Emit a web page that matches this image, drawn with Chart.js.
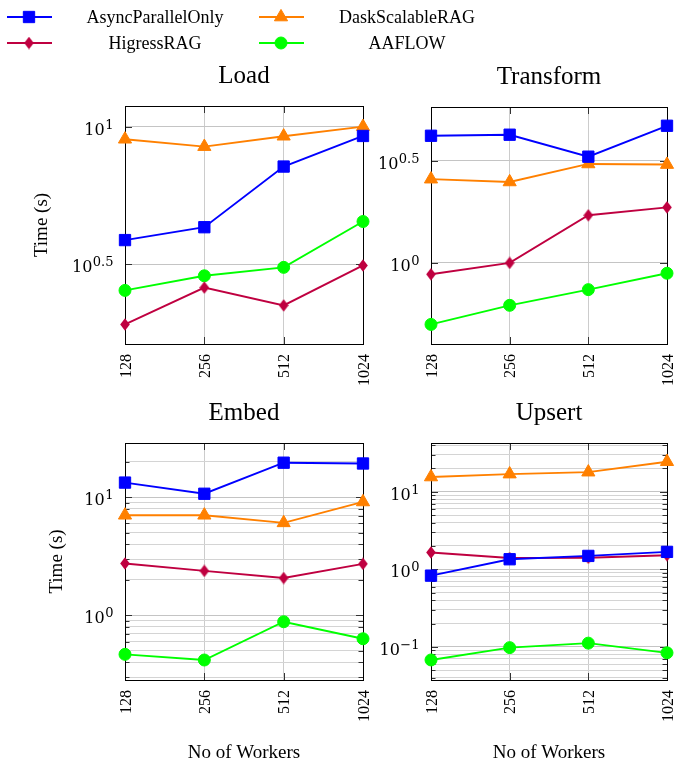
<!DOCTYPE html>
<html>
<head>
<meta charset="utf-8">
<script src="https://cdn.jsdelivr.net/npm/chart.js@4.4.1/dist/chart.umd.min.js"></script>
<style>
body { margin: 0; background: #fff; }
#wrap { position: relative; width: 676px; height: 764px; }
#wrap canvas { position: absolute; left: 0; top: 0; }
</style>
</head>
<body>
<div id="wrap">
<canvas id="cLoad" width="676" height="764"></canvas>
<canvas id="cTransform" width="676" height="764"></canvas>
<canvas id="cEmbed" width="676" height="764"></canvas>
<canvas id="cUpsert" width="676" height="764"></canvas>
</div>
<script>
// categories
var workers = ['128', '256', '512', '1024'];
var names = ['AsyncParallelOnly', 'DaskScalableRAG', 'HigressRAG', 'AAFLOW'];

// Load (s)
var loadAsync   = [3.87, 4.31, 7.16, 9.25];
var loadDask    = [9.0, 8.46, 9.23, 10.0];
var loadHigress = [1.91, 2.60, 2.24, 3.13];
var loadAaflow  = [2.54, 2.87, 3.08, 4.52];

// Transform (s)
var transAsync   = [4.19, 4.24, 3.31, 4.69];
var transDask    = [2.57, 2.49, 3.05, 3.03];
var transHigress = [0.88, 1.0, 1.71, 1.87];
var transAaflow  = [0.50, 0.62, 0.74, 0.89];

// Embed (s)
var embedAsync   = [13.3, 10.7, 19.6, 19.3];
var embedDask    = [7.04, 7.04, 6.07, 9.12];
var embedHigress = [2.75, 2.38, 2.07, 2.73];
var embedAaflow  = [0.468, 0.419, 0.883, 0.634];

// Upsert (s)
var upsertAsync   = [0.83, 1.35, 1.49, 1.68];
var upsertDask    = [15.5, 16.9, 17.9, 24.4];
var upsertHigress = [1.65, 1.40, 1.41, 1.52];
var upsertAaflow  = [0.068, 0.098, 0.112, 0.084];

// y ticks: major values + exponent labels, minor values
var loadTicks = [3.1623, 10];
var loadTickExp = ['0.5', '1'];
var transTicks = [1, 3.1623];
var transTickExp = ['0', '0.5'];
var embedTicks = [1, 10];
var embedTickExp = ['0', '1'];
var embedMinor = [0.3, 0.4, 0.5, 0.6, 0.7, 0.8, 0.9, 2, 3, 4, 5, 6, 7, 8, 9, 20];
var upsertTicks = [0.1, 1, 10];
var upsertTickExp = ['\u22121', '0', '1'];
var upsertMinor = [0.04, 0.05, 0.06, 0.07, 0.08, 0.09, 0.2, 0.3, 0.4, 0.5, 0.6, 0.7, 0.8, 0.9,
                   2, 3, 4, 5, 6, 7, 8, 9, 20, 30, 40];

var colors = ['#0000ff', '#ff8000', '#bf0040', '#00ff00'];
var serif = '"Liberation Serif", "Times New Roman", serif';

function diamond(color) {
  var c = document.createElement('canvas');
  c.width = 10; c.height = 13;
  var g = c.getContext('2d');
  g.fillStyle = color;
  g.beginPath();
  g.moveTo(5, 0.2); g.lineTo(9.8, 6.5); g.lineTo(5, 12.8); g.lineTo(0.2, 6.5);
  g.closePath();
  g.fill();
  return c;
}

var styles = [
  { pointStyle: 'rect', radius: 8 },
  { pointStyle: 'triangle', radius: 7.6 },
  { pointStyle: diamond(colors[2]), radius: 6 },
  { pointStyle: 'circle', radius: 6 }
];

function makeSet(i, data) {
  return {
    label: names[i],
    data: data,
    borderColor: colors[i],
    backgroundColor: colors[i],
    borderWidth: 1.9,
    pointStyle: styles[i].pointStyle,
    pointRadius: styles[i].radius,
    pointBorderWidth: 1,
    pointBorderColor: colors[i],
    pointBackgroundColor: colors[i],
    tension: 0,
    clip: false
  };
}

function framePlugin(cfg) {
  return {
    id: 'frame',
    beforeDatasetsDraw: function(chart) {
      var ctx = chart.ctx, a = chart.chartArea;
      var ys = chart.scales.y, xs = chart.scales.x;
      ctx.save();
      ctx.strokeStyle = '#333';
      ctx.lineWidth = 1;
      var all = cfg.ticks.concat(cfg.minor || []);
      all.forEach(function(v) {
        var y = Math.round(ys.getPixelForValue(v)) + 0.5;
        var len = cfg.ticks.indexOf(v) >= 0 ? 7 : 4.5;
        ctx.beginPath();
        ctx.moveTo(a.left, y); ctx.lineTo(a.left + len, y);
        ctx.moveTo(a.right, y); ctx.lineTo(a.right - len, y);
        ctx.stroke();
      });
      workers.forEach(function(w, i) {
        var x = Math.round(xs.getPixelForTick(i)) + 0.5;
        ctx.beginPath();
        ctx.moveTo(x, a.bottom); ctx.lineTo(x, a.bottom - 7);
        ctx.moveTo(x, a.top); ctx.lineTo(x, a.top + 7);
        ctx.stroke();
      });
      ctx.strokeStyle = '#000';
      ctx.strokeRect(Math.round(a.left) + 0.5, Math.round(a.top) + 0.5,
                     Math.round(a.right - a.left), Math.round(a.bottom - a.top));
      ctx.restore();
    },
    afterDraw: function(chart) {
      var ctx = chart.ctx, a = chart.chartArea;
      var ys = chart.scales.y, xs = chart.scales.x;
      var cx = (a.left + a.right) / 2;
      ctx.save();
      ctx.fillStyle = '#000';

      // y tick labels 10^e
      cfg.ticks.forEach(function(v, i) {
        var y = ys.getPixelForValue(v);
        ctx.font = '13px "DejaVu Serif", serif';
        var we = ctx.measureText(cfg.exp[i]).width;
        ctx.font = '16px "DejaVu Serif", serif';
        var wb = ctx.measureText('10').width;
        var x0 = a.left - 12 - we - wb;
        ctx.textAlign = 'left';
        ctx.textBaseline = 'alphabetic';
        ctx.fillText('10', x0, y + 8);
        ctx.font = '13px "DejaVu Serif", serif';
        ctx.fillText(cfg.exp[i], x0 + wb + 0.5, y + 2);
      });

      // x tick labels, rotated
      ctx.font = '16px ' + serif;
      workers.forEach(function(w, i) {
        var x = xs.getPixelForTick(i);
        ctx.save();
        ctx.translate(x, a.bottom + 10);
        ctx.rotate(-Math.PI / 2);
        ctx.textAlign = 'right';
        ctx.textBaseline = 'alphabetic';
        ctx.fillText(w, 0, 5.5);
        ctx.restore();
      });

      // title
      ctx.font = '25px ' + serif;
      ctx.textAlign = 'center';
      ctx.textBaseline = 'alphabetic';
      ctx.fillText(cfg.title, cx, a.top - 23);

      if (cfg.ylabelX) {
        ctx.save();
        ctx.font = '19px ' + serif;
        ctx.translate(cfg.ylabelX, (a.top + a.bottom) / 2);
        ctx.rotate(-Math.PI / 2);
        ctx.textAlign = 'center';
        ctx.textBaseline = 'middle';
        ctx.fillText('Time (s)', 0, 0);
        ctx.restore();
      }
      if (cfg.xlabel) {
        ctx.font = '19px ' + serif;
        ctx.textAlign = 'center';
        ctx.fillText('No of Workers', cx, 758);
      }

      if (cfg.legend) {
        var cols = [{ x: 7, t: 155 }, { x: 259, t: 407 }];
        var rows = [17, 43];
        chart.data.datasets.forEach(function(ds, i) {
          var c = cols[i % 2], y = rows[Math.floor(i / 2)];
          ctx.strokeStyle = ds.borderColor;
          ctx.fillStyle = ds.backgroundColor;
          ctx.lineWidth = 1.9;
          ctx.beginPath();
          ctx.moveTo(c.x, y); ctx.lineTo(c.x + 45, y);
          ctx.stroke();
          ctx.lineWidth = 1;
          Chart.helpers.drawPoint(ctx, {
            pointStyle: ds.pointStyle, radius: ds.pointRadius, borderWidth: 1, rotation: 0
          }, c.x + 22, y);
          ctx.fillStyle = '#000';
          ctx.font = '18px ' + serif;
          ctx.textAlign = 'center';
          ctx.textBaseline = 'alphabetic';
          ctx.fillText(ds.label, c.t, y + 6);
        });
      }
      ctx.restore();
    }
  };
}

function makeChart(id, box, cfg, sets) {
  var all = cfg.ticks.concat(cfg.minor || []);
  return new Chart(document.getElementById(id), {
    type: 'line',
    data: {
      labels: workers,
      datasets: sets.map(function(d, i) { return makeSet(i, d); })
    },
    options: {
      responsive: false,
      animation: false,
      events: [],
      devicePixelRatio: 1,
      layout: {
        autoPadding: false,
        padding: { left: box.l, top: box.t, right: 676 - box.r, bottom: 764 - box.b }
      },
      plugins: { legend: { display: false }, tooltip: { enabled: false }, title: { display: false } },
      scales: {
        x: {
          type: 'category',
          offset: false,
          ticks: { display: false },
          border: { display: false },
          grid: { drawTicks: false, color: '#cccccc', lineWidth: 1 }
        },
        y: {
          type: 'logarithmic',
          min: cfg.min,
          max: cfg.max,
          ticks: { display: false },
          border: { display: false },
          afterBuildTicks: function(scale) {
            scale.ticks = all.map(function(v) { return { value: v }; });
          },
          grid: {
            drawTicks: false,
            lineWidth: 1,
            color: function(c) {
              if (c.tick && cfg.ticks.indexOf(c.tick.value) >= 0) return '#c4c4c4';
              return '#d4d4d4';
            }
          }
        }
      }
    },
    plugins: [framePlugin(cfg)]
  });
}

makeChart('cLoad', { l: 125, t: 106, r: 363, b: 344 },
  { title: 'Load', min: 1.622, max: 11.885, ticks: loadTicks, exp: loadTickExp,
    ylabelX: 42, legend: true },
  [loadAsync, loadDask, loadHigress, loadAaflow]);

makeChart('cTransform', { l: 431, t: 107, r: 667, b: 344 },
  { title: 'Transform', min: 0.401, max: 5.794, ticks: transTicks, exp: transTickExp },
  [transAsync, transDask, transHigress, transAaflow]);

makeChart('cEmbed', { l: 125, t: 443, r: 363, b: 680 },
  { title: 'Embed', min: 0.2838, max: 28.77, ticks: embedTicks, exp: embedTickExp,
    minor: embedMinor, ylabelX: 57, xlabel: true },
  [embedAsync, embedDask, embedHigress, embedAaflow]);

makeChart('cUpsert', { l: 431, t: 443, r: 667, b: 680 },
  { title: 'Upsert', min: 0.0375, max: 42.5, ticks: upsertTicks, exp: upsertTickExp,
    minor: upsertMinor, xlabel: true },
  [upsertAsync, upsertDask, upsertHigress, upsertAaflow]);
</script>
</body>
</html>
